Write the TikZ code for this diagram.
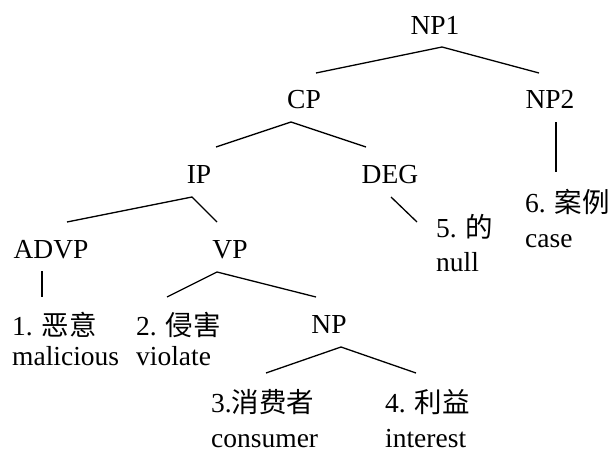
\documentclass[tikz,border=0pt]{standalone}
\usepackage{fontspec}
\setmainfont{Liberation Serif}
\newfontfamily\cjk{Noto Sans CJK SC}
\usetikzlibrary{calc}
\begin{document}
\begin{tikzpicture}[x=1pt,y=-1pt,
  lab/.style={inner sep=0pt,anchor=base,font=\fontsize{27.5}{34}\selectfont},
  leaf/.style={inner sep=0pt,anchor=base west,align=left,font=\fontsize{27.5}{34}\selectfont},
  edge/.style={line width=1.3pt}]
\useasboundingbox (0,0) rectangle (613,455);
\node[lab] (np1) at (435,34) {NP1};
\node[lab] (cp) at (304,108) {CP};
\node[lab] (np2) at (550,108) {NP2};
\node[lab] (ip) at (199,183) {IP};
\node[lab] (deg) at (390,183) {DEG};
\node[lab] (advp) at (51,258) {ADVP};
\node[lab] (vp) at (230,258) {VP};
\node[lab] (np) at (329,333) {NP};
\node[leaf] (l1) at (12,365) {1. {\cjk 恶意}\\[-4pt]malicious};
\node[leaf] (l2) at (136,365) {2. {\cjk 侵害}\\[-4pt]violate};
\node[leaf] (l3) at (211,447) {3.{\cjk 消费者}\\[1pt]consumer};
\node[leaf] (l4) at (385,447) {4. {\cjk 利益}\\[1pt]interest};
\node[leaf] (l5) at (436,271) {5. {\cjk 的}\\null};
\node[leaf] (l6) at (525,247) {6. {\cjk 案例}\\[1pt]case};
% connectors
\draw[edge] ($(cp.base)+(12,-35)$) -- ($(np1.base)+(7,13)$) -- ($(np2.base)+(-11,-35)$);
\draw[edge] ($(np2.base)+(6,14)$) -- ($(l6.base west)+(31,-75)$);
\draw[edge] ($(ip.base)+(17,-36)$) -- ($(cp.base)+(-13,14)$) -- ($(deg.base)+(-24,-36)$);
\draw[edge] ($(advp.base)+(16,-36)$) -- ($(ip.base)+(-7,14)$) -- ($(vp.base)+(-13,-36)$);
\draw[edge] ($(deg.base)+(1,14)$) -- ($(l5.base west)+(-19,-49)$);
\draw[edge] ($(advp.base)+(-9,13)$) -- ($(l1.base west)+(30,-68)$);
\draw[edge] ($(l2.base west)+(31,-68)$) -- ($(vp.base)+(-13,14)$) -- ($(np.base)+(-13,-36)$);
\draw[edge] ($(l3.base west)+(55,-74)$) -- ($(np.base)+(12,14)$) -- ($(l4.base west)+(31,-74)$);
\end{tikzpicture}
\end{document}
